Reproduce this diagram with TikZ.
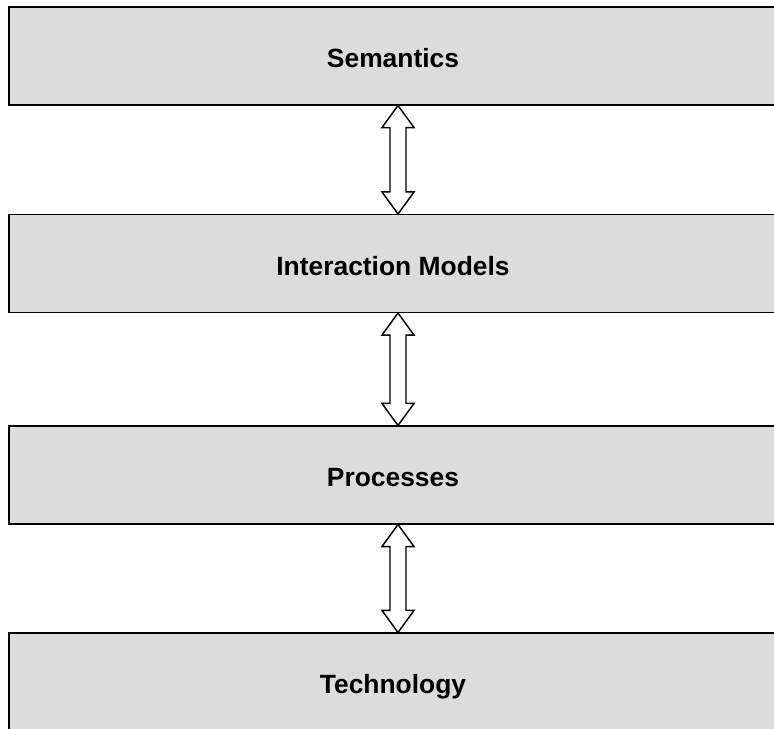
\documentclass[tikz,border=0pt]{standalone}
\usepackage{fontspec}
\setmainfont{Liberation Sans}
\usetikzlibrary{calc}
\definecolor{boxgray}{RGB}{220,220,220}
\tikzset{
  layer/.style={draw=black, fill=boxgray, line width=0.8pt,
    minimum width=576pt, minimum height=73.5pt, inner sep=0pt},
  layertext/.style={font=\bfseries\fontsize{19.8}{23}\selectfont, inner sep=0pt},
  hollowarrow/.style={draw=black, fill=white, line width=1.1pt, line join=miter}
}
\newcommand\twowayarrow[2]{%
  \draw[hollowarrow] (#1) -- ($(#1)+(16,22)$) -- ($(#1)+(8,22)$) -- ($(#2)+(8,-22)$)
    -- ($(#2)+(16,-22)$) -- (#2) -- ($(#2)+(-16,-22)$) -- ($(#2)+(-8,-22)$)
    -- ($(#1)+(-8,22)$) -- ($(#1)+(-16,22)$) -- cycle;}
\begin{document}
\begin{tikzpicture}[x=0.75pt,y=-0.75pt]
\useasboundingbox (0,0) rectangle (774,728);
\node[layer] (sem) at (393,56) {};
\node[layer] (int) at (393,263.5) {};
\node[layer] (pro) at (393,475) {};
\node[layer] (tec) at (393,682) {};
\node[layertext] (semt) at ($(sem.center)+(0,2.5)$) {Semantics};
\node[layertext] (intt) at ($(int.center)+(0,2.5)$) {Interaction Models};
\node[layertext] (prot) at ($(pro.center)+(0,2.5)$) {Processes};
\node[layertext] (tect) at ($(tec.center)+(0,4.5)$) {Technology};
\coordinate (ax) at (398,0);
\coordinate (a1t) at (sem.south -| ax);
\coordinate (a1b) at (int.north -| ax);
\coordinate (a2t) at (int.south -| ax);
\coordinate (a2b) at (pro.north -| ax);
\coordinate (a3t) at (pro.south -| ax);
\coordinate (a3b) at (tec.north -| ax);
\twowayarrow{a1t}{a1b}
\twowayarrow{a2t}{a2b}
\twowayarrow{a3t}{a3b}
\end{tikzpicture}
\end{document}
